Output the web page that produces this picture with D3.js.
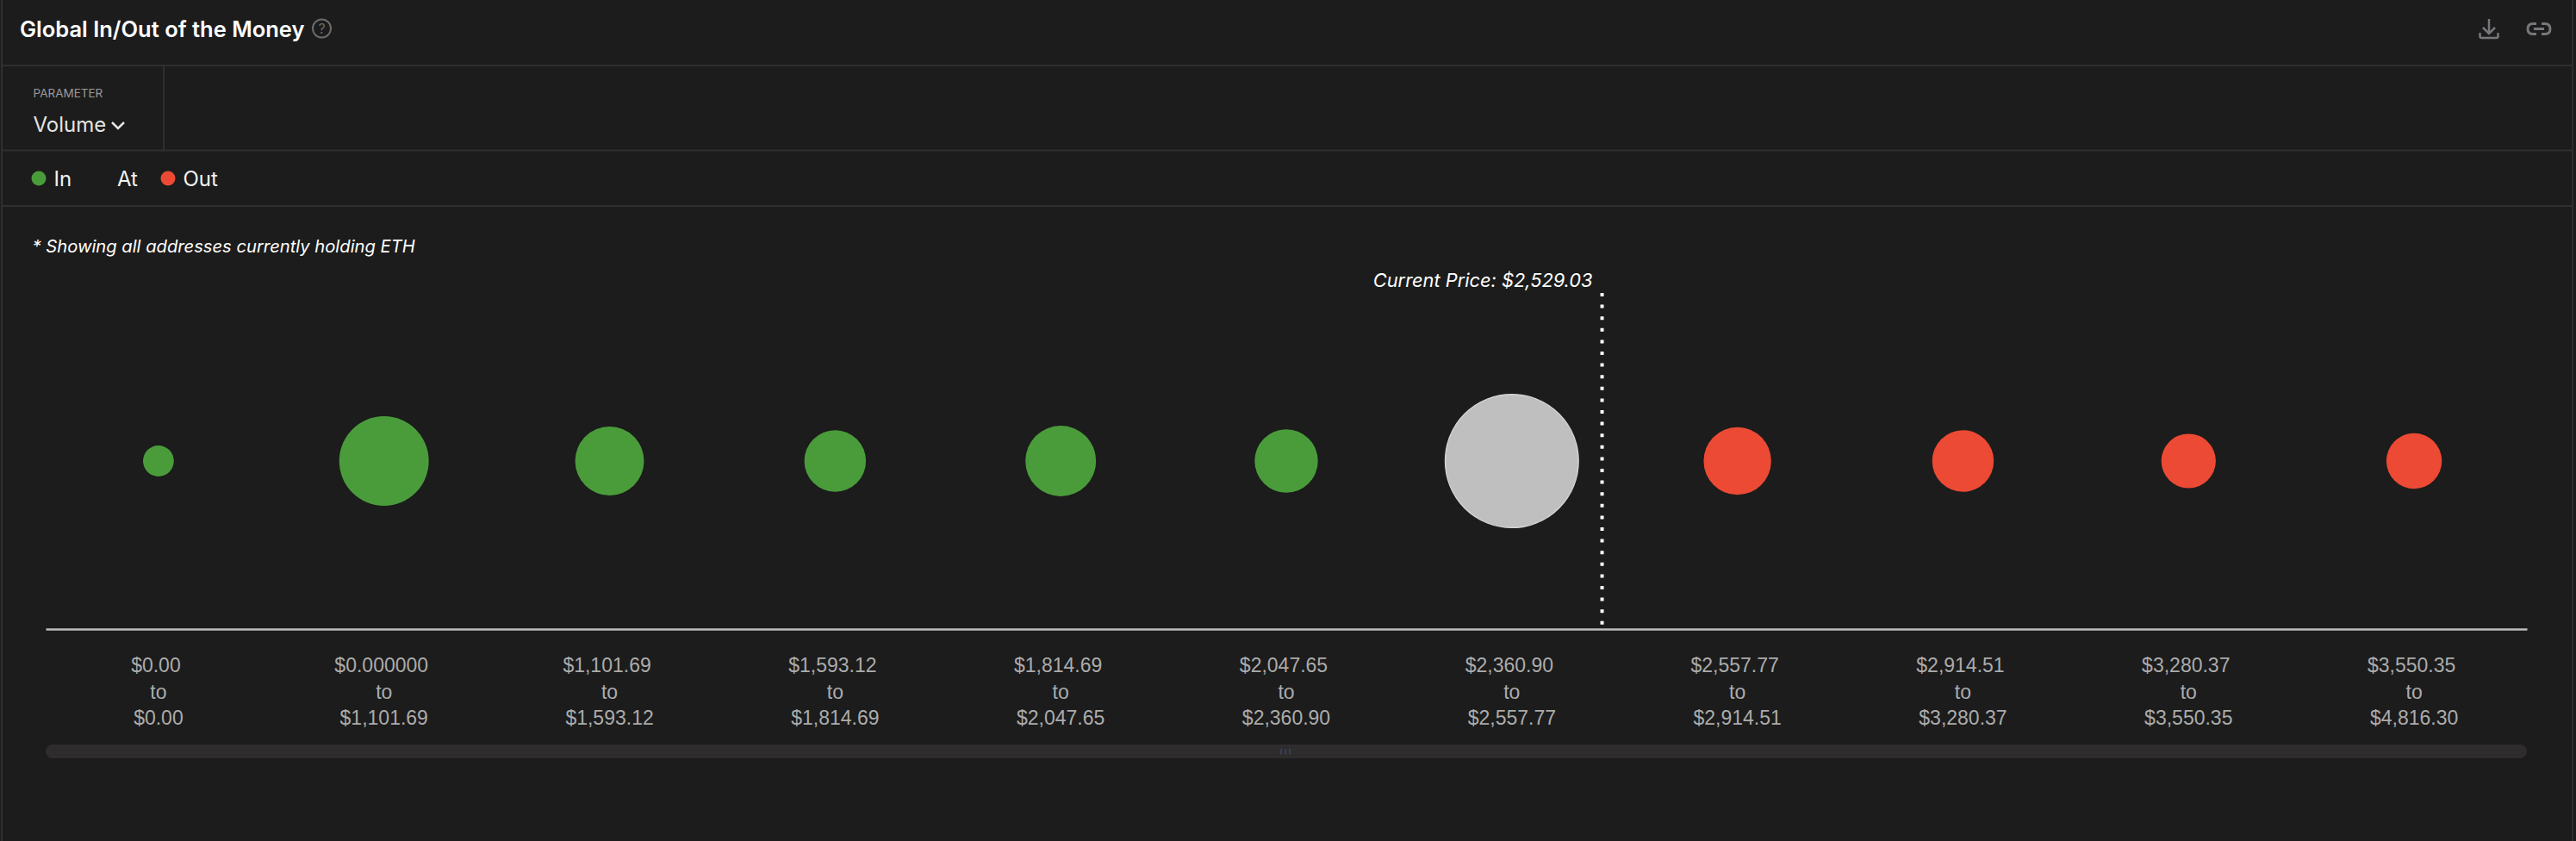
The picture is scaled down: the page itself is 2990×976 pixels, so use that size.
<!DOCTYPE html>
<html>
<head>
<meta charset="utf-8">
<title>Global In/Out of the Money</title>
<script src="https://cdn.jsdelivr.net/npm/d3@7"></script>
<style>
  html, body { margin: 0; background: #1c1c1c; }
  svg { display: block; font-family: Inter, "Noto Sans", sans-serif; }
</style>
</head>
<body>
<div id="chart"></div>
<script>
// price bands, low and high end of each
const rangeFrom = ["$0.00", "$0.000000", "$1,101.69", "$1,593.12", "$1,814.69", "$2,047.65", "$2,360.90", "$2,557.77", "$2,914.51", "$3,280.37", "$3,550.35"];
const rangeTo = ["$0.00", "$1,101.69", "$1,593.12", "$1,814.69", "$2,047.65", "$2,360.90", "$2,557.77", "$2,914.51", "$3,280.37", "$3,550.35", "$4,816.30"];
// volume per band (millions of ETH, no scale in the picture)
const volumes = [3.2, 27, 16, 12.8, 16.8, 13.5, 59.8, 15.4, 12.8, 10, 10.4];
const states = ["In", "In", "In", "In", "In", "In", "At", "Out", "Out", "Out", "Out"];
const legendItems = ["In", "At", "Out"];
const currentPrice = "$2,529.03";
const priceBand = 6;

const W = 2990, H = 976;
const BG = "#1c1c1c", RULE = "#2f2f2f";
const stateColor = d3.scaleOrdinal().domain(legendItems).range(["#4a9c3b", "#bfbfbf", "#ec4a34"]);

const svg = d3.select("#chart").append("svg").attr("width", W).attr("height", H);
svg.append("rect").attr("width", W).attr("height", H).attr("fill", BG);

// panel rules
const rules = [[3, 76, 2986, 76], [3, 174.5, 2986, 174.5], [3, 239, 2986, 239], [190, 76, 190, 176], [2, 0, 2, H], [2986, 0, 2986, H]];
svg.selectAll("line.rule").data(rules).join("line").attr("class", "rule")
    .attr("x1", d => d[0]).attr("y1", d => d[1]).attr("x2", d => d[2]).attr("y2", d => d[3])
    .attr("stroke", RULE).attr("stroke-width", 2);

// header
svg.append("text").attr("x", 23).attr("y", 43).attr("fill", "#fff")
    .attr("font-size", 25.5).attr("font-weight", 600).text("Global In/Out of the Money");
const help = svg.append("g").attr("transform", "translate(373.5,33)");
help.append("circle").attr("r", 10.5).attr("fill", "none").attr("stroke", "#6b6b6b").attr("stroke-width", 2);
help.append("text").attr("y", 6).attr("text-anchor", "middle").attr("font-size", 16).attr("fill", "#6b6b6b").text("?");

// download + link icons
svg.append("path").attr("d", "M2889 22V38M2882 32L2889 39L2896 32M2878.5 38V42Q2878.5 44 2880.5 44H2897.5Q2899.5 44 2899.5 42V38")
    .attr("fill", "none").attr("stroke", "#77777b").attr("stroke-width", 2.5);
svg.append("path").attr("d", "M2944 27.5H2940Q2934 27.5 2934 33.5Q2934 39.5 2940 39.5H2944M2950 27.5H2954Q2960 27.5 2960 33.5Q2960 39.5 2954 39.5H2950M2941 33.5H2953")
    .attr("fill", "none").attr("stroke", "#77777b").attr("stroke-width", 3);

// parameter dropdown
svg.append("text").attr("x", 38.5).attr("y", 113).attr("fill", "#9a9a9a").attr("font-size", 13.5).text("PARAMETER");
svg.append("text").attr("x", 38.5).attr("y", 153).attr("fill", "#e4e4e4").attr("font-size", 24).text("Volume");
svg.append("path").attr("d", "M130 142L137 149L144 142").attr("fill", "none").attr("stroke", "#e4e4e4").attr("stroke-width", 2.5);

// legend (At has no dot in the original)
const legendX = { In: 62.5, At: 136, Out: 212.5 };
const legend = svg.selectAll("g.legend").data(legendItems).join("g").attr("class", "legend");
legend.filter(d => d !== "At").append("circle")
    .attr("cx", d => legendX[d] - 17.5).attr("cy", 207).attr("r", 8.5).attr("fill", d => stateColor(d));
legend.append("text").attr("x", d => legendX[d]).attr("y", 216).attr("fill", "#f2f2f2").attr("font-size", 24).text(d => d);

svg.append("text").attr("x", 37.5).attr("y", 293).attr("fill", "#fff")
    .attr("font-size", 20.2).attr("font-style", "italic").text("* Showing all addresses currently holding ETH");

// scales
const axisY = 730, bubbleY = 535;
const x = d3.scaleBand().domain(d3.range(rangeFrom.length)).range([53, 2933]);
const r = d3.scaleSqrt().domain([0, d3.max(volumes)]).range([0, 77.3]);

// x axis, three line labels per band
const axis = svg.append("g").attr("transform", `translate(0,${axisY})`)
    .call(d3.axisBottom(x).tickSize(0).tickFormat(""));
axis.select(".domain").attr("stroke", "#bdbdbd").attr("stroke-width", 2.5);
axis.selectAll(".tick text").remove();
const labels = axis.selectAll(".tick").append("text")
    .attr("text-anchor", "middle").attr("fill", "#ababab").attr("font-size", 23);
labels.append("tspan").attr("x", -3).attr("y", 50).text(i => rangeFrom[i]);
labels.append("tspan").attr("x", 0).attr("y", 81).text("to");
labels.append("tspan").attr("x", 0).attr("y", 111).text(i => rangeTo[i]);

// bubbles
svg.selectAll("circle.bubble").data(volumes).join("circle").attr("class", "bubble")
    .attr("cx", (d, i) => x(i) + x.bandwidth() / 2)
    .attr("cy", bubbleY)
    .attr("r", d => r(d))
    .attr("fill", (d, i) => stateColor(states[i]))
    .attr("stroke", (d, i) => states[i] === "At" ? "#d4d4d4" : "none")
    .attr("stroke-width", 1.5);

// current price marker, sits 90% across its band
const priceX = x(priceBand) + x.bandwidth() * 0.9;
svg.append("line").attr("x1", priceX).attr("x2", priceX).attr("y1", 340).attr("y2", axisY)
    .attr("stroke", "#fff").attr("stroke-width", 4).attr("stroke-dasharray", "4 9.6");
svg.append("text").attr("x", priceX - 11).attr("y", 333).attr("text-anchor", "end")
    .attr("fill", "#fff").attr("font-size", 21.8).attr("font-style", "italic").text(`Current Price: ${currentPrice}`);

// scrollbar under the chart
svg.append("rect").attr("x", 53).attr("y", 864).attr("width", 2880).attr("height", 16).attr("rx", 8).attr("fill", "#2e2c2d");
svg.selectAll("line.grip").data([-5, 0, 5]).join("line").attr("class", "grip")
    .attr("x1", d => 1492 + d).attr("x2", d => 1492 + d).attr("y1", 869).attr("y2", 875.5)
    .attr("stroke", "#3d4468").attr("stroke-width", 1.5);
</script>
</body>
</html>
